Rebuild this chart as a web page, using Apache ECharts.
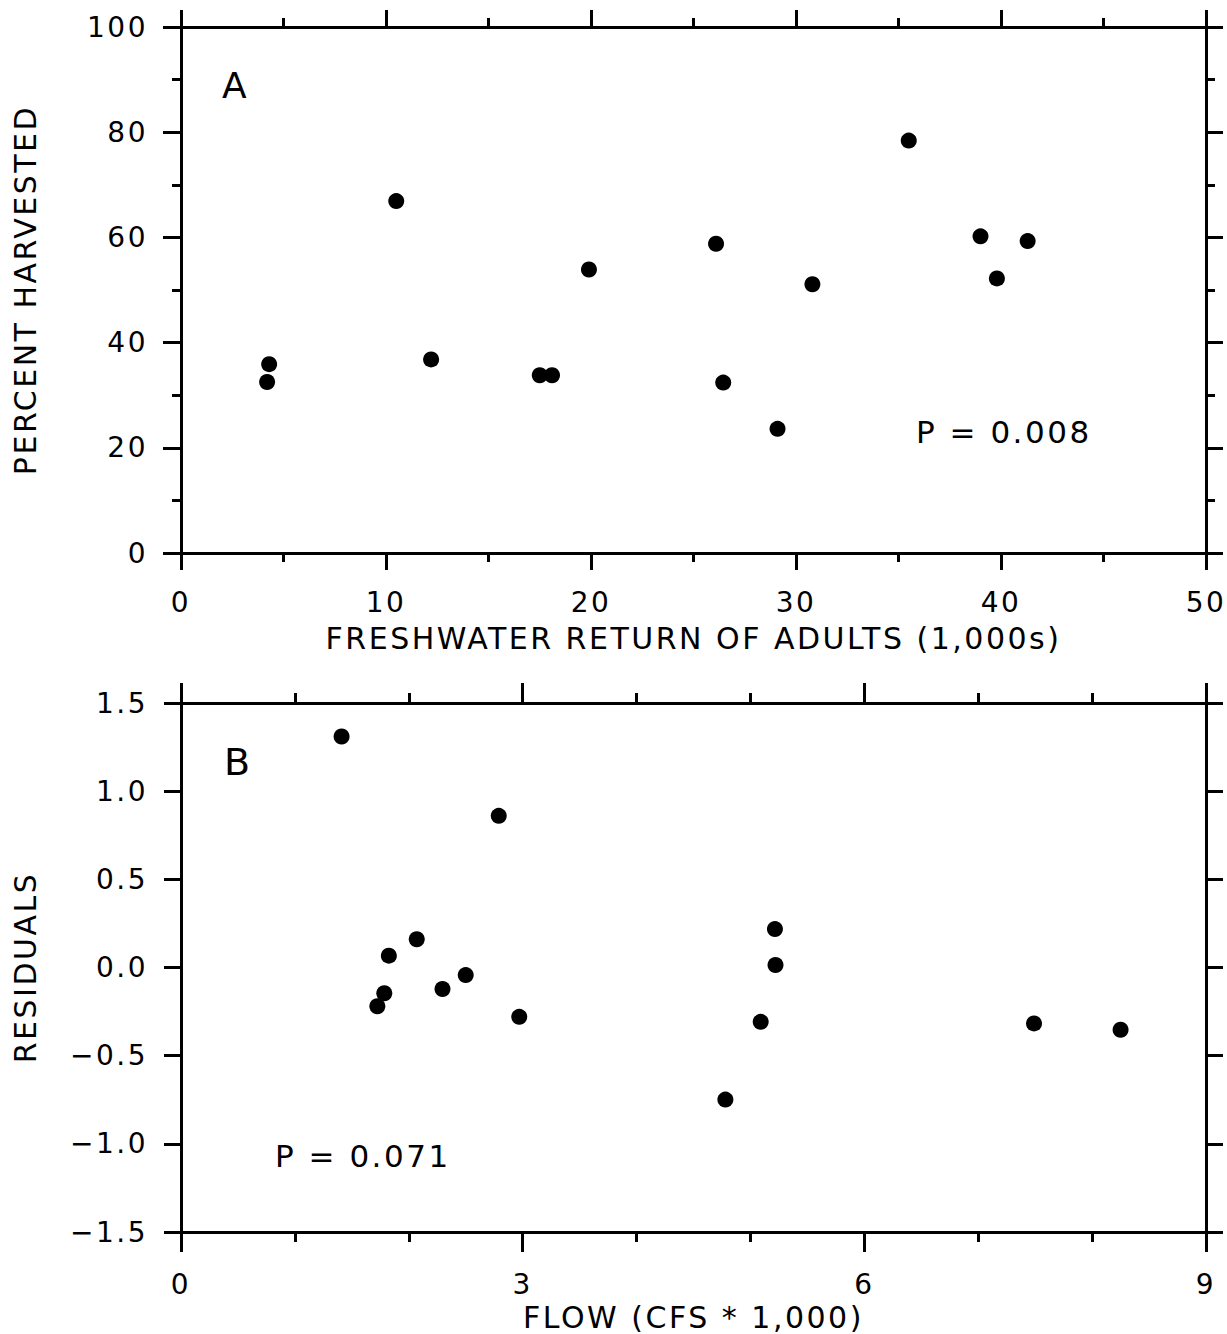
<!DOCTYPE html>
<html>
<head>
<meta charset="utf-8">
<title>Percent harvested and residuals</title>
<script src="https://cdn.jsdelivr.net/npm/echarts@6/dist/echarts.min.js"></script>
<style>
  html, body { margin: 0; padding: 0; background: #fff; }
  #main { width: 1227px; height: 1334px; }
  /* the plotter lettering is spaced wide */
  #main text { letter-spacing: 2.5px; }
</style>
</head>
<body>
<div id="main"></div>
<script type="text/javascript">
// panel A: freshwater return of adults (1,000s) vs percent harvested
var returnA  = [4.2, 4.3, 10.5, 12.2, 17.5, 18.1, 19.9, 26.1, 26.45, 29.1, 30.8, 35.5, 39.0, 39.8, 41.3];
var harvestA = [32.5, 35.9, 66.9, 36.8, 33.8, 33.8, 53.9, 58.8, 32.4, 23.6, 51.1, 78.4, 60.2, 52.2, 59.3];
var ticksAx = [0, 10, 20, 30, 40, 50];
var ticksAy = [0, 20, 40, 60, 80, 100];

// panel B: flow (cfs * 1,000) vs residuals
var flowB  = [1.41, 2.79, 2.07, 1.825, 2.50, 1.785, 2.296, 1.724, 2.97, 5.215, 5.22, 5.09, 4.78, 7.49, 8.25];
var residB = [1.31, 0.86, 0.16, 0.067, -0.043, -0.146, -0.122, -0.22, -0.28, 0.218, 0.014, -0.308, -0.749, -0.317, -0.353];
var ticksBx = [0, 3, 6, 9];
var ticksBy = [-1.5, -1.0, -0.5, 0.0, 0.5, 1.0, 1.5];

var FONT = 'DejaVu Sans';
var INK = '#000';

function pairs(xs, ys) {
    return xs.map(function (x, i) { return [x, ys[i]]; });
}

// one axis; without labels it is the mirrored axis with ticks only
function axis(grid, pos, ticks, opt) {
    var a = {
        gridIndex: grid,
        type: 'value',
        position: pos,
        min: ticks[0],
        max: ticks[ticks.length - 1],
        interval: ticks[1] - ticks[0],
        axisLine: { onZero: false, lineStyle: { color: INK, width: 3 } },
        axisTick: { show: true, length: opt.tickLen, lineStyle: { color: INK, width: 3 } },
        minorTick: { show: !!opt.minor, splitNumber: opt.minor || 1, length: opt.minorLen || 9,
                     lineStyle: { color: INK, width: 3 } },
        splitLine: { show: false },
        axisLabel: { show: !!opt.labels, color: INK, fontFamily: FONT, fontSize: 28,
                     margin: opt.margin || 30, formatter: opt.fmt },
        silent: true
    };
    if (opt.name) {
        a.name = opt.name;
        a.nameLocation = 'middle';
        a.nameGap = opt.nameGap;
        a.nameTextStyle = { color: INK, fontFamily: FONT, fontSize: opt.nameSize || 30 };
    }
    return a;
}

var fmtInt = function (v) { return String(v); };
var fmtRes = function (v) { return v.toFixed(1).replace('-', '\u2212'); };

var myChart = echarts.init(document.getElementById('main'), null, { renderer: 'svg' });

var option = {
    backgroundColor: '#fff',
    animation: false,
    grid: [
        { left: 181, top: 27, width: 1025, height: 526 },
        { left: 181, top: 703, width: 1025, height: 529 }
    ],
    xAxis: [
        axis(0, 'bottom', ticksAx, { tickLen: 17, minor: 2, labels: true, margin: 35, fmt: fmtInt,
             name: 'FRESHWATER RETURN OF ADULTS (1,000s)', nameGap: 70 }),
        axis(0, 'top', ticksAx, { tickLen: 17, minor: 2 }),
        axis(1, 'bottom', ticksBx, { tickLen: 20, minor: 3, minorLen: 10, labels: true, margin: 38, fmt: fmtInt,
             name: 'FLOW (CFS * 1,000)', nameGap: 70 }),
        axis(1, 'top', ticksBx, { tickLen: 20, minor: 3, minorLen: 10 })
    ],
    yAxis: [
        axis(0, 'left', ticksAy, { tickLen: 18, minor: 2, labels: true, margin: 33, fmt: fmtInt,
             name: 'PERCENT HARVESTED', nameGap: 141, nameSize: 30 }),
        axis(0, 'right', ticksAy, { tickLen: 17, minor: 2 }),
        axis(1, 'left', ticksBy, { tickLen: 17, labels: true, margin: 33, fmt: fmtRes,
             name: 'RESIDUALS', nameGap: 141, nameSize: 30 }),
        axis(1, 'right', ticksBy, { tickLen: 17 })
    ],
    graphic: [
        { type: 'text', x: 222, y: 85, style: { text: 'A', fontFamily: FONT, fontSize: 36, fill: INK,
          textAlign: 'left', textVerticalAlign: 'middle' } },
        { type: 'text', x: 224, y: 762, style: { text: 'B', fontFamily: FONT, fontSize: 38, fill: INK,
          textAlign: 'left', textVerticalAlign: 'middle' } },
        { type: 'text', x: 916, y: 432, style: { text: 'P = 0.008', fontFamily: FONT, fontSize: 31, fill: INK,
          textAlign: 'left', textVerticalAlign: 'middle' } },
        { type: 'text', x: 275, y: 1156, style: { text: 'P = 0.071', fontFamily: FONT, fontSize: 31, fill: INK,
          textAlign: 'left', textVerticalAlign: 'middle' } }
    ],
    series: [
        { type: 'scatter', xAxisIndex: 0, yAxisIndex: 0, data: pairs(returnA, harvestA),
          symbol: 'circle', symbolSize: 16, itemStyle: { color: INK, opacity: 1 }, silent: true },
        { type: 'scatter', xAxisIndex: 2, yAxisIndex: 2, data: pairs(flowB, residB),
          symbol: 'circle', symbolSize: 16, itemStyle: { color: INK, opacity: 1 }, silent: true }
    ]
};

myChart.setOption(option);
</script>
</body>
</html>
